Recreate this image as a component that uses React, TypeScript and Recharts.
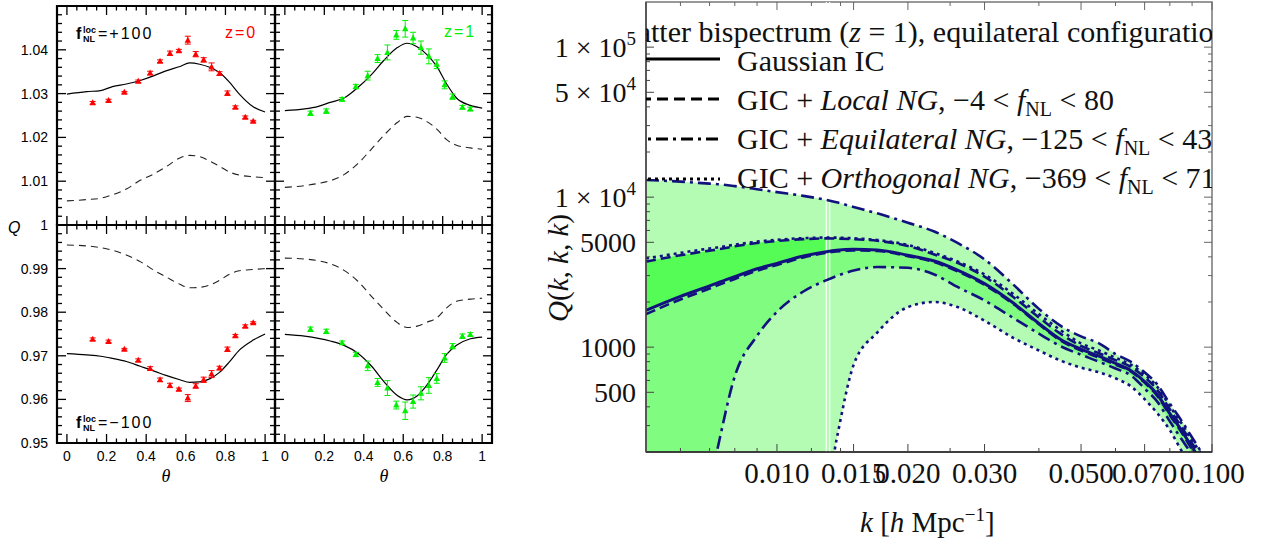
import React from "react";
import {
  ComposedChart,
  Line,
  Scatter,
  ErrorBar,
  Area,
  XAxis,
  YAxis,
  ReferenceArea,
  ReferenceLine,
} from "recharts";

// ---------- left: reduced bispectrum Q(theta), f_NL^loc = +/-100 ----------
const THETA_PTS = [0.13, 0.21, 0.29, 0.36, 0.42, 0.47, 0.52, 0.565, 0.61, 0.65, 0.69, 0.73, 0.77, 0.81, 0.85, 0.9, 0.94];

const Q_Z0_POS = [1.0279, 1.0284, 1.0303, 1.0328, 1.0347, 1.0374, 1.0392, 1.0398, 1.0422, 1.039, 1.0377, 1.0361, 1.0346, 1.0301, 1.0269, 1.0246, 1.0237];
const ERR_Z0_POS = [0.0003, 0.0003, 0.0002, 0.0003, 0.0004, 0.0003, 0.0005, 0.0003, 0.0009, 0.0006, 0.0005, 0.0009, 0.0004, 0.0005, 0.0003, 0.0003, 0.0002];
const Q_Z1_POS = [1.0255, 1.026, 1.0287, 1.0316, 1.0341, 1.038, 1.0394, 1.0434, 1.0448, 1.0427, 1.0405, 1.0385, 1.0367, 1.032, 1.0293, 1.0269, 1.0265];
const ERR_Z1_POS = [0.0005, 0.0005, 0.0004, 0.0005, 0.001, 0.0009, 0.0017, 0.001, 0.0019, 0.0013, 0.0015, 0.0017, 0.001, 0.0009, 0.0006, 0.0004, 0.0004];
const Q_Z0_NEG = [0.9738, 0.9733, 0.9715, 0.969, 0.9671, 0.9645, 0.9632, 0.9623, 0.9603, 0.9631, 0.9645, 0.9658, 0.9672, 0.9715, 0.9746, 0.9768, 0.9776];
const ERR_Z0_NEG = [0.0003, 0.0003, 0.0002, 0.0003, 0.0004, 0.0004, 0.0005, 0.0003, 0.0008, 0.0005, 0.0006, 0.0008, 0.0004, 0.0005, 0.0003, 0.0003, 0.0002];
const Q_Z1_NEG = [0.9761, 0.9756, 0.973, 0.9703, 0.9677, 0.9639, 0.9626, 0.9587, 0.9574, 0.9595, 0.9614, 0.9632, 0.9648, 0.9695, 0.9722, 0.9745, 0.9749];
const ERR_Z1_NEG = [0.0005, 0.0005, 0.0004, 0.0005, 0.0011, 0.0009, 0.0017, 0.0009, 0.002, 0.0015, 0.0015, 0.0018, 0.0011, 0.001, 0.0006, 0.0005, 0.0004];

// theory curves (solid: with f_NL, dashed: relative effect)
const THETA_CURVE = [0, 0.1, 0.17, 0.23, 0.3, 0.37, 0.44, 0.5, 0.57, 0.62, 0.67, 0.72, 0.77, 0.82, 0.87, 0.94, 1];
const SOLID_Z0_POS = [1.0299, 1.03045, 1.0307, 1.0316, 1.0322, 1.033, 1.0341, 1.0352, 1.0362, 1.037, 1.0367, 1.036, 1.0348, 1.0326, 1.0299, 1.027, 1.0258];
const DASH_Z0_POS = [1.0055, 1.0058, 1.0061, 1.0069, 1.0082, 1.0102, 1.0117, 1.0133, 1.0153, 1.0159, 1.0156, 1.0146, 1.0134, 1.0121, 1.0114, 1.011, 1.0108];
const SOLID_Z1_POS = [1.0261, 1.0265, 1.0271, 1.028, 1.029, 1.0314, 1.0344, 1.0375, 1.0405, 1.0415, 1.0407, 1.0389, 1.0362, 1.0322, 1.029, 1.0273, 1.0267];
const DASH_Z1_POS = [1.0086, 1.009, 1.0095, 1.0101, 1.0115, 1.014, 1.0174, 1.0204, 1.0234, 1.0248, 1.0246, 1.0236, 1.0219, 1.0195, 1.0182, 1.0176, 1.0173];
const SOLID_Z0_NEG = [0.9705, 0.9702, 0.9699, 0.9694, 0.9687, 0.9676, 0.9665, 0.9655, 0.9645, 0.9639, 0.964, 0.9647, 0.9662, 0.9686, 0.9713, 0.9736, 0.975];
const DASH_Z0_NEG = [0.9954, 0.9952, 0.9948, 0.9942, 0.9931, 0.9916, 0.9896, 0.9881, 0.9864, 0.9856, 0.9857, 0.9862, 0.9873, 0.9887, 0.9895, 0.9898, 0.99];
const SOLID_Z1_NEG = [0.9749, 0.9745, 0.974, 0.9734, 0.9724, 0.9706, 0.9676, 0.9642, 0.9609, 0.9599, 0.9608, 0.9633, 0.9667, 0.9703, 0.9724, 0.9739, 0.9743];
const DASH_Z1_NEG = [0.9924, 0.9922, 0.9918, 0.9911, 0.9896, 0.9871, 0.9836, 0.9807, 0.9776, 0.9765, 0.9768, 0.9777, 0.9787, 0.981, 0.9825, 0.983, 0.9832];

const THETA_MAJOR = [0, 0.2, 0.4, 0.6, 0.8, 1];
const THETA_LABELS = ["0", "0.2", "0.4", "0.6", "0.8", "1"];
const Q_TOP_MAJOR = [1, 1.01, 1.02, 1.03, 1.04];
const Q_TOP_LABELS = ["1", "1.01", "1.02", "1.03", "1.04"];
const Q_BOT_MAJOR = [0.95, 0.96, 0.97, 0.98, 0.99];
const Q_BOT_LABELS = ["0.95", "0.96", "0.97", "0.98", "0.99"];

// ---------- right: matter bispectrum Q(k,k,k) at z = 1 ----------
const K = [0.005, 0.006, 0.007, 0.0073, 0.008, 0.009, 0.01, 0.0115, 0.013, 0.0137, 0.015, 0.017, 0.02, 0.023, 0.026, 0.03, 0.035, 0.04, 0.045, 0.05, 0.055, 0.06, 0.065, 0.07, 0.075, 0.08, 0.085, 0.09, 0.095, 0.1];
const Q_GAUSS = [1760, 2180, 2560, 2680, 2950, 3330, 3620, 4050, 4330, 4420, 4490, 4450, 4100, 3750, 3260, 2650, 1960, 1440, 1120, 970, 870, 780, 700, 590, 480, 360, 280, 215, 170, 135];
const LOC_LO = [1660, 2080, 2460, 2580, 2850, 3230, 3530, 3960, 4250, 4340, 4420, 4380, 4040, 3690, 3200, 2600, 1930, 1420, 1100, 950, 850, 765, 690, 580, 470, 352, 272, 208, 165, 130];
const LOC_HI = [3720, 4100, 4400, 4480, 4700, 4950, 5100, 5250, 5310, 5300, 5250, 5120, 4720, 4150, 3650, 2950, 2150, 1580, 1220, 1020, 910, 820, 740, 630, 515, 385, 295, 228, 180, 142];
const EQ_LO = [100, 100, 120, 210, 640, 1190, 1720, 2350, 2800, 2980, 3240, 3420, 3380, 3050, 2520, 2050, 1560, 1230, 1010, 890, 800, 720, 650, 530, 430, 320, 245, 192, 150, 120];
const EQ_HI = [13000, 12700, 12300, 12200, 11850, 11300, 10800, 10200, 9570, 9250, 8600, 7800, 6750, 5900, 4950, 3850, 2600, 1800, 1380, 1180, 1060, 900, 800, 680, 560, 420, 325, 250, 195, 155];
const ORTH_LO = [100, 100, 100, 100, 100, 100, 100, 100, 110, 240, 760, 1250, 1850, 2000, 1850, 1500, 1150, 950, 810, 730, 680, 620, 550, 450, 360, 280, 205, 155, 120, 100];
const ORTH_HI = [3900, 4250, 4550, 4620, 4820, 5050, 5200, 5330, 5380, 5370, 5320, 5180, 4800, 4250, 3730, 3050, 2250, 1660, 1290, 1060, 950, 850, 765, 655, 540, 405, 312, 240, 190, 150];
const K_SPLIT = 0.013; // where the darker fills stop

const K_MAJOR = [0.01, 0.015, 0.02, 0.03, 0.05, 0.07, 0.1];
const K_LABELS = ["0.010", "0.015", "0.020", "0.030", "0.050", "0.070", "0.100"];
const K_MINOR = [0.006, 0.007, 0.008, 0.009, 0.012, 0.014, 0.025, 0.04, 0.06, 0.08, 0.09];
const QK_MAJOR = [500, 1000, 5000, 10000, 50000, 100000];
const QK_LABELS: [string, string][] = [["500", ""], ["1000", ""], ["5000", ""], ["1 × 10", "4"], ["5 × 10", "4"], ["1 × 10", "5"]];
const QK_MINOR = [300, 400, 600, 700, 800, 900, 2000, 3000, 4000, 6000, 7000, 8000, 9000, 20000, 30000, 40000, 60000, 70000, 80000, 90000];

const NAVY = "#12127e";
const LIGHT = "#b4fcb4";
const MID = "#80fc80";
const DARK = "#56fc56";
const SANS = "Liberation Sans, Arial, sans-serif";
const SERIF = "Liberation Serif, Times New Roman, serif";

const steps = (a: number, b: number, d: number) =>
  Array.from({ length: Math.round((b - a) / d) + 1 }, (_, i) => +(a + i * d).toFixed(4));
const near = (arr: number[], v: number) => arr.findIndex((m) => Math.abs(m - v) < 1e-6);

const Tri = (p: any) => (
  <polygon
    points={`${p.cx},${p.cy - 3.5} ${p.cx - 3.2},${p.cy + 2.5} ${p.cx + 3.2},${p.cy + 2.5}`}
    fill={p.fill}
  />
);

type PanelProps = {
  left: number;
  top: number;
  pw: number;
  ph: number;
  domain: [number, number];
  pts: number[];
  err: number[];
  solid: number[];
  dashed: number[];
  color: string;
  yMajor: number[];
  yLabels: string[] | null;
  xLabels: boolean;
};

function QPanel({ left, top, pw, ph, domain, pts, err, solid, dashed, color, yMajor, yLabels, xLabels }: PanelProps) {
  const ML = 57;
  const MT = 6;
  const MR = 6;
  const XH = 45;
  const ptData = THETA_PTS.map((t, i) => ({ x: t, y: pts[i], e: err[i] }));
  const solidData = THETA_CURVE.map((t, i) => ({ x: t, y: solid[i] }));
  const dashData = THETA_CURVE.map((t, i) => ({ x: t, y: dashed[i] }));
  const xTicks = steps(0, 1, 0.05);
  const yTicks = steps(domain[0], domain[1], 0.002);

  const XTick = (p: any) => {
    const v = p.payload.value;
    const i = near(THETA_MAJOR, v);
    const len = i >= 0 ? 9 : 4.5;
    return (
      <g>
        <line x1={p.x} y1={p.y} x2={p.x} y2={p.y - len} stroke="#000" strokeWidth={1.3} />
        <line x1={p.x} y1={p.y - ph} x2={p.x} y2={p.y - ph + len} stroke="#000" strokeWidth={1.3} />
        {xLabels && i >= 0 && (
          <text x={p.x} y={p.y + 18} textAnchor="middle" fontFamily={SANS} fontSize={14} fill="#000">
            {THETA_LABELS[i]}
          </text>
        )}
      </g>
    );
  };

  const YTick = (p: any) => {
    const v = p.payload.value;
    const i = near(yMajor, v);
    const len = Math.abs(v * 100 - Math.round(v * 100)) < 1e-6 ? 9 : 5;
    return (
      <g>
        <line x1={p.x} y1={p.y} x2={p.x + len} y2={p.y} stroke="#000" strokeWidth={1.3} />
        <line x1={p.x + pw} y1={p.y} x2={p.x + pw - len} y2={p.y} stroke="#000" strokeWidth={1.3} />
        {yLabels && i >= 0 && (
          <text x={p.x - 9} y={p.y + 5} textAnchor="end" fontFamily={SANS} fontSize={14} fill="#000">
            {yLabels[i]}
          </text>
        )}
      </g>
    );
  };

  return (
    <div style={{ position: "absolute", left: left - ML, top: top - MT }}>
      <ComposedChart width={ML + pw + MR} height={MT + ph + XH} margin={{ top: MT, right: MR, left: 0, bottom: 0 }}>
        <XAxis
          dataKey="x"
          type="number"
          domain={[-0.05, 1.05]}
          allowDataOverflow
          ticks={xTicks}
          interval={0}
          tickSize={0}
          tickMargin={0}
          axisLine={false}
          tickLine={false}
          height={XH}
          tick={XTick}
        />
        <YAxis
          dataKey="y"
          type="number"
          domain={domain}
          allowDataOverflow
          ticks={yTicks}
          interval={0}
          tickSize={0}
          tickMargin={0}
          axisLine={false}
          tickLine={false}
          width={ML}
          tick={YTick}
        />
        <ReferenceArea x1={-0.05} x2={1.05} y1={domain[0]} y2={domain[1]} fill="none" fillOpacity={0} stroke="#000" strokeWidth={2.2} />
        <Line data={dashData} dataKey="y" type="monotone" stroke="#222" strokeWidth={1.1} strokeDasharray="7 5" dot={false} isAnimationActive={false} />
        <Line data={solidData} dataKey="y" type="monotone" stroke="#000" strokeWidth={1.2} dot={false} isAnimationActive={false} />
        <Scatter data={ptData} dataKey="y" fill={color} shape={Tri} isAnimationActive={false}>
          <ErrorBar dataKey="e" direction="y" width={3} stroke={color} strokeWidth={1} />
        </Scatter>
      </ComposedChart>
    </div>
  );
}

// right chart geometry
const R_LEFT = 520;
const R_W = 743;
const R_H = 545;
const R_M = { top: 2, right: 51, left: 26, bottom: 33 };
const R_YW = 100;
const R_XH = 60;
const R_PW = R_W - R_M.left - R_YW - R_M.right;
const R_PH = R_H - R_M.top - R_M.bottom - R_XH;

function BispectrumChart() {
  const rows = K.map((k, i) => ({
    k,
    g: Q_GAUSS[i],
    locLo: LOC_LO[i],
    locHi: LOC_HI[i],
    eqLo: EQ_LO[i],
    eqHi: EQ_HI[i],
    orthLo: ORTH_LO[i],
    orthHi: ORTH_HI[i],
    light: [ORTH_LO[i], EQ_HI[i]],
    mid: [EQ_LO[i], LOC_HI[i]],
    dark: k <= K_SPLIT ? [Q_GAUSS[i], LOC_HI[i]] : null,
  }));

  const KTick = (p: any) => {
    const v = p.payload.value;
    const i = near(K_MAJOR, v);
    const len = i >= 0 ? 8 : 4;
    return (
      <g>
        <line x1={p.x} y1={p.y} x2={p.x} y2={p.y - len} stroke="#444" />
        <line x1={p.x} y1={p.y - R_PH} x2={p.x} y2={p.y - R_PH + len} stroke="#666" />
        {i >= 0 && (
          <text x={p.x} y={p.y + 31} textAnchor="middle" fontFamily={SERIF} fontSize={29} fill="#111">
            {K_LABELS[i]}
          </text>
        )}
      </g>
    );
  };

  const QTick = (p: any) => {
    const v = p.payload.value;
    const i = QK_MAJOR.indexOf(v);
    const len = i >= 0 ? 8 : 4;
    return (
      <g>
        <line x1={p.x} y1={p.y} x2={p.x + len} y2={p.y} stroke="#444" />
        <line x1={p.x + R_PW} y1={p.y} x2={p.x + R_PW - len} y2={p.y} stroke="#666" />
        {i >= 0 && (
          <text x={p.x - 10} y={p.y + 10} textAnchor="end" fontFamily={SERIF} fontSize={28} fill="#111">
            {QK_LABELS[i][0]}
            {QK_LABELS[i][1] && (
              <tspan dy={-12} fontSize={19}>
                {QK_LABELS[i][1]}
              </tspan>
            )}
          </text>
        )}
      </g>
    );
  };

  return (
    <div style={{ position: "absolute", left: R_LEFT, top: 0 }}>
      <ComposedChart width={R_W} height={R_H} data={rows} margin={R_M}>
        <XAxis
          dataKey="k"
          type="number"
          scale="log"
          domain={[0.005, 0.1]}
          allowDataOverflow
          ticks={[...K_MINOR, ...K_MAJOR].sort((a, b) => a - b)}
          interval={0}
          tickSize={0}
          tickMargin={0}
          axisLine={{ stroke: "#222", strokeWidth: 1.5 }}
          tickLine={false}
          height={R_XH}
          tick={KTick}
        />
        <YAxis
          type="number"
          scale="log"
          domain={[200, 200000]}
          allowDataOverflow
          ticks={[...QK_MINOR, ...QK_MAJOR].sort((a, b) => a - b)}
          interval={0}
          tickSize={0}
          tickMargin={0}
          axisLine={{ stroke: "#444", strokeWidth: 1.5 }}
          tickLine={false}
          width={R_YW}
          tick={QTick}
        />
        <Area dataKey="light" type="monotone" stroke="none" fill={LIGHT} fillOpacity={1} isAnimationActive={false} />
        <Area dataKey="mid" type="monotone" stroke="none" fill={MID} fillOpacity={1} isAnimationActive={false} />
        <Area dataKey="dark" type="monotone" stroke="none" fill={DARK} fillOpacity={1} isAnimationActive={false} />
        <ReferenceLine x={0.01298} stroke="#fff" strokeWidth={1.2} />
        <ReferenceLine x={0.01322} stroke="#fff" strokeWidth={1.2} />
        <ReferenceArea x1={0.005} x2={0.1} y1={200} y2={200000} fill="none" fillOpacity={0} stroke="#777" strokeWidth={1.5} />
        <Line dataKey="eqHi" type="monotone" stroke={NAVY} strokeWidth={2.6} strokeDasharray="13 5 3 5" dot={false} isAnimationActive={false} />
        <Line dataKey="eqLo" type="monotone" stroke={NAVY} strokeWidth={2.6} strokeDasharray="13 5 3 5" dot={false} isAnimationActive={false} />
        <Line dataKey="orthHi" type="monotone" stroke={NAVY} strokeWidth={2.6} strokeDasharray="3 4" dot={false} isAnimationActive={false} />
        <Line dataKey="orthLo" type="monotone" stroke={NAVY} strokeWidth={2.6} strokeDasharray="3 4" dot={false} isAnimationActive={false} />
        <Line dataKey="locHi" type="monotone" stroke={NAVY} strokeWidth={2.6} strokeDasharray="10 5" dot={false} isAnimationActive={false} />
        <Line dataKey="locLo" type="monotone" stroke={NAVY} strokeWidth={2.6} strokeDasharray="10 5" dot={false} isAnimationActive={false} />
        <Line dataKey="g" type="monotone" stroke={NAVY} strokeWidth={3} dot={false} isAnimationActive={false} />
      </ComposedChart>
    </div>
  );
}

const FLabel = ({ x, y, val }: { x: number; y: number; val: string }) => (
  <g fontFamily={SANS} fill="#000">
    <text x={x} y={y} fontSize={16} fontWeight="bold">f</text>
    <text x={x + 7} y={y - 6} fontSize={9} fontWeight="bold">loc</text>
    <text x={x + 7} y={y + 3} fontSize={9} fontWeight="bold">NL</text>
    <text x={x + 22} y={y} fontSize={16} letterSpacing={2}>{val}</text>
  </g>
);

const LEGEND = [
  { dash: undefined, model: "", range: ["", ""] },
  { dash: "11 6", model: "Local NG", range: ["−4 < ", " < 80"] },
  { dash: "12 5 3 5", model: "Equilateral NG", range: ["−125 < ", " < 43"] },
  { dash: "3 4", model: "Orthogonal NG", range: ["−369 < ", " < 71"] },
];

function Overlay() {
  const px = R_LEFT + R_M.left + R_YW;
  const py = R_M.top;
  return (
    <svg width={1263} height={545} style={{ position: "absolute", left: 0, top: 0, pointerEvents: "none" }}>
      <defs>
        <clipPath id="plotClip">
          <rect x={px} y={py} width={R_PW} height={R_PH} />
        </clipPath>
      </defs>
      {/* left panels */}
      <FLabel x={76} y={39} val="=+100" />
      <FLabel x={76} y={428} val="=−100" />
      <text x={225} y={38} fontFamily={SANS} fontSize={16} letterSpacing={2} fill="#ff0000">z=0</text>
      <text x={444} y={37} fontFamily={SANS} fontSize={16} letterSpacing={2} fill="#00f000">z=1</text>
      <text x={8} y={233} fontFamily={SANS} fontSize={16} fontStyle="italic" fill="#000">Q</text>
      <text x={166} y={482} textAnchor="middle" fontFamily={SERIF} fontSize={18} fontStyle="italic" fill="#000">θ</text>
      <text x={384} y={482} textAnchor="middle" fontFamily={SERIF} fontSize={18} fontStyle="italic" fill="#000">θ</text>

      {/* right chart: title + legend, clipped to the plot */}
      <g clipPath="url(#plotClip)" fontFamily={SERIF} fontSize={30} fill="#111">
        <text x={611} y={42}>
          Matter bispectrum (<tspan fontStyle="italic">z</tspan> = 1), equilateral configuration
        </text>
        {LEGEND.map((l, i) => (
          <g key={i}>
            <line x1={px - 40} y1={59 + i * 40} x2={720} y2={59 + i * 40} stroke="#000" strokeWidth={3} strokeDasharray={l.dash} />
            {i === 0 ? (
              <text x={737} y={71}>Gaussian IC</text>
            ) : (
              <text x={737} y={71 + i * 39}>
                GIC + <tspan fontStyle="italic">{l.model}</tspan>, {l.range[0]}
                <tspan fontStyle="italic">f</tspan>
                <tspan fontSize={20} dy={6}>NL</tspan>
                <tspan dy={-6}>{l.range[1]}</tspan>
              </text>
            )}
          </g>
        ))}
      </g>
      <text
        transform="translate(568,268) rotate(-90)"
        textAnchor="middle"
        fontFamily={SERIF}
        fontSize={29}
        fill="#111"
      >
        <tspan fontStyle="italic">Q</tspan>(<tspan fontStyle="italic">k</tspan>, <tspan fontStyle="italic">k</tspan>, <tspan fontStyle="italic">k</tspan>)
      </text>
      <text x={860} y={532} fontFamily={SERIF} fontSize={29} fill="#111">
        <tspan fontStyle="italic">k</tspan> [<tspan fontStyle="italic">h</tspan> Mpc
        <tspan dy={-11} fontSize={19}>−1</tspan>
        <tspan dy={11}>]</tspan>
      </text>
    </svg>
  );
}

export default function App() {
  return (
    <div style={{ position: "absolute", left: 0, top: 0, width: 1263, height: 545, background: "#fff", overflow: "hidden" }}>
      <QPanel left={57} top={6} pw={218} ph={219} domain={[1, 1.05]} pts={Q_Z0_POS} err={ERR_Z0_POS} solid={SOLID_Z0_POS} dashed={DASH_Z0_POS} color="#ff0000" yMajor={Q_TOP_MAJOR} yLabels={Q_TOP_LABELS} xLabels={false} />
      <QPanel left={275} top={6} pw={217} ph={219} domain={[1, 1.05]} pts={Q_Z1_POS} err={ERR_Z1_POS} solid={SOLID_Z1_POS} dashed={DASH_Z1_POS} color="#00f000" yMajor={Q_TOP_MAJOR} yLabels={null} xLabels={false} />
      <QPanel left={57} top={225} pw={218} ph={218} domain={[0.95, 1]} pts={Q_Z0_NEG} err={ERR_Z0_NEG} solid={SOLID_Z0_NEG} dashed={DASH_Z0_NEG} color="#ff0000" yMajor={Q_BOT_MAJOR} yLabels={Q_BOT_LABELS} xLabels={true} />
      <QPanel left={275} top={225} pw={217} ph={218} domain={[0.95, 1]} pts={Q_Z1_NEG} err={ERR_Z1_NEG} solid={SOLID_Z1_NEG} dashed={DASH_Z1_NEG} color="#00f000" yMajor={Q_BOT_MAJOR} yLabels={null} xLabels={true} />
      <BispectrumChart />
      <Overlay />
    </div>
  );
}
